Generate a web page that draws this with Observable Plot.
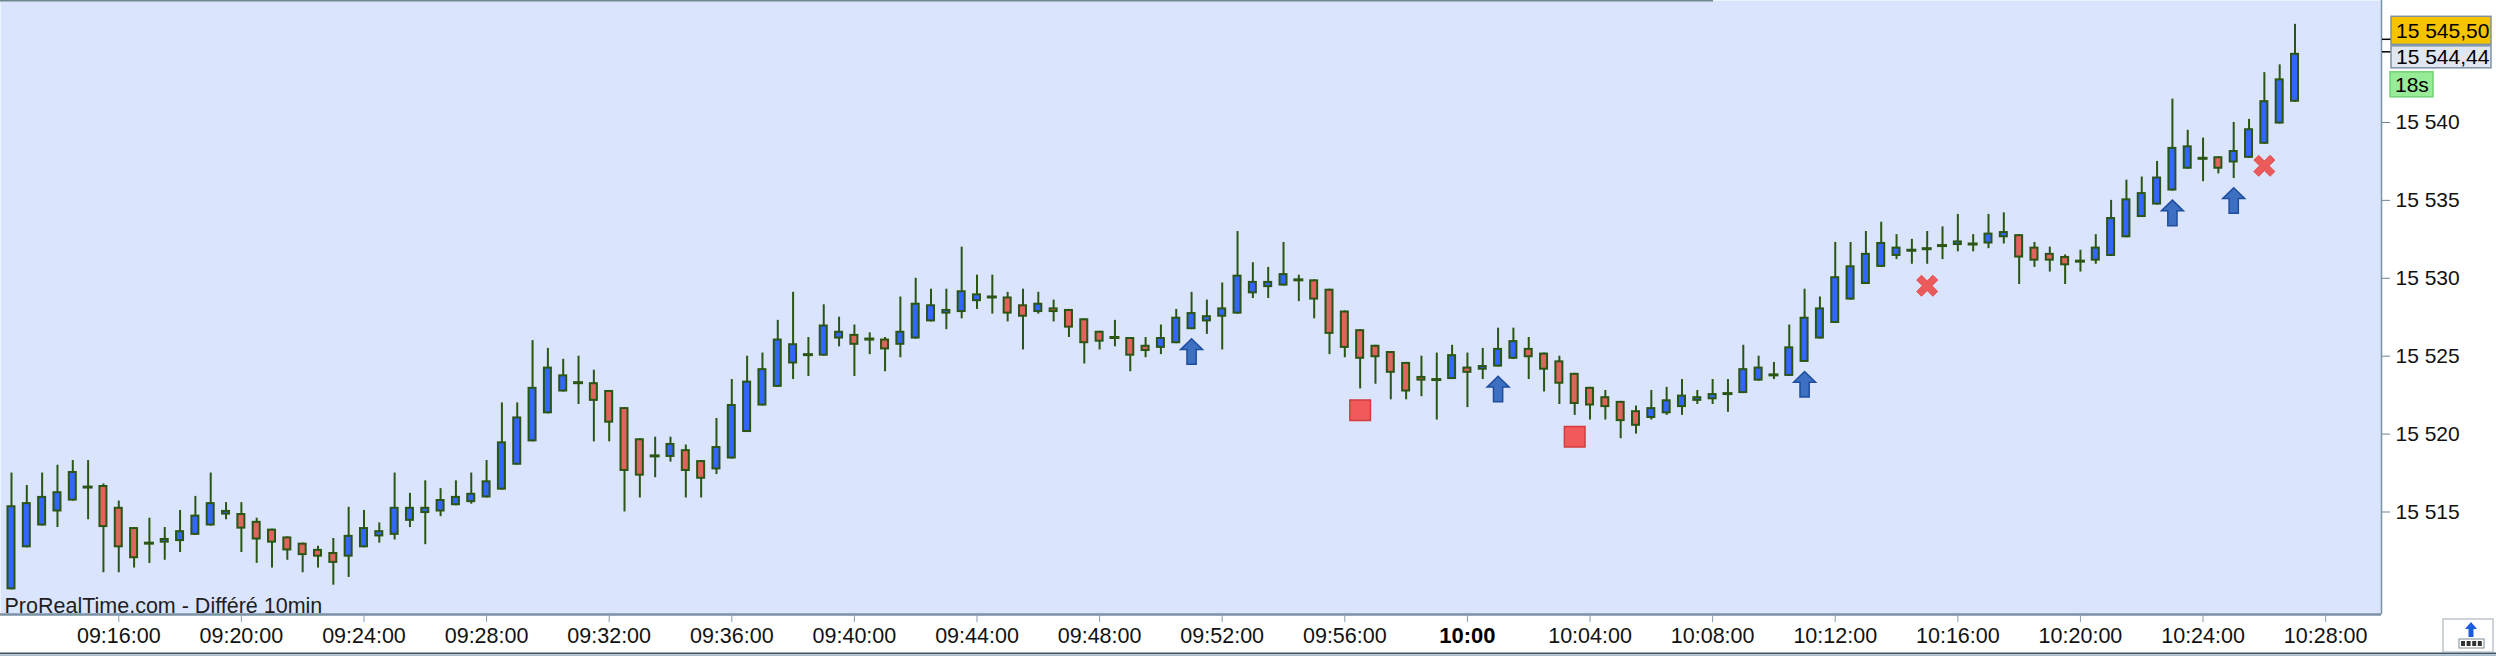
<!DOCTYPE html>
<html>
<head>
<meta charset="utf-8">
<script src="https://cdn.jsdelivr.net/npm/d3@7"></script>
<script src="https://cdn.jsdelivr.net/npm/@observablehq/plot@0.6"></script>
<style>
  html, body { margin: 0; padding: 0; background: #ffffff; }
  #chart { width: 2496px; height: 656px; overflow: hidden; }
</style>
</head>
<body>
<div id="chart"></div>
<script>
// ---------------- DATA ----------------
const day = "2023-10-02";
const barStart = "09:12:30";
const barSeconds = 30;

const open = [
15510.0,15512.7,15514.1,15515.0,15515.7,15516.6,15516.7,15515.3,15514.0,15513.0,
15513.0,15513.1,15513.5,15514.1,15514.8,15514.9,15514.4,15513.9,15513.4,15513.0,
15512.6,15512.4,15512.1,15512.7,15513.4,15513.5,15514.4,15514.9,15515.0,15515.4,
15515.6,15515.9,15516.4,15518.0,15519.5,15521.3,15522.7,15523.3,15523.3,15522.8,
15521.7,15519.7,15518.6,15518.5,15519.0,15518.3,15517.7,15518.4,15520.1,15521.8,
15523.0,15524.5,15525.1,15525.0,15526.1,15526.4,15526.1,15526.1,15525.7,15526.1,
15527.2,15527.7,15527.8,15528.5,15528.8,15528.8,15528.3,15527.8,15528.1,15528.0,
15527.4,15526.6,15526.2,15526.2,15525.7,15525.5,15525.8,15526.7,15527.2,15527.5,
15527.7,15529.0,15529.4,15529.5,15529.9,15529.9,15529.3,15527.9,15526.7,15525.7,
15525.3,15524.6,15523.7,15523.5,15523.5,15524.3,15524.1,15524.3,15524.8,15525.5,
15525.2,15524.7,15523.9,15523.0,15522.4,15522.1,15521.5,15521.0,15521.3,15521.7,
15522.1,15522.2,15522.6,15522.6,15523.4,15523.8,15523.7,15524.6,15526.1,15527.1,
15528.6,15529.6,15530.7,15531.4,15531.8,15531.9,15532.1,15532.1,15532.2,15532.2,
15532.6,15532.8,15532.0,15531.6,15531.4,15531.1,15531.1,15531.4,15532.6,15533.9,
15534.7,15535.6,15537.0,15537.7,15537.8,15537.4,15537.7,15538.6,15539.9,15541.3
];
const high = [
15517.5,15516.7,15517.5,15518.0,15518.3,15518.3,15516.8,15515.7,15514.0,15514.6,
15514.0,15515.1,15516.0,15517.5,15515.6,15515.6,15514.6,15513.9,15513.4,15513.0,
15512.8,15513.3,15515.3,15515.1,15514.3,15517.5,15516.2,15517.0,15516.5,15517.0,
15517.5,15518.3,15522.0,15522.0,15526.0,15525.5,15524.8,15525.0,15524.1,15522.8,
15521.7,15519.7,15519.8,15519.8,15519.3,15518.3,15521.0,15523.5,15525.0,15525.2,
15527.3,15529.1,15526.2,15528.3,15527.5,15527.0,15526.5,15526.2,15528.8,15530.0,
15529.3,15529.3,15532.0,15530.2,15530.2,15529.1,15529.3,15529.1,15528.6,15528.0,
15527.4,15526.6,15527.3,15526.2,15526.2,15527.0,15528.0,15529.1,15528.6,15529.7,
15533.0,15531.0,15530.7,15532.3,15530.2,15529.9,15529.3,15527.9,15526.7,15525.7,
15525.3,15524.6,15525.0,15525.2,15525.7,15525.2,15525.5,15526.8,15526.8,15526.2,
15525.2,15525.0,15523.9,15523.0,15522.8,15522.1,15521.8,15522.8,15523.0,15523.5,
15522.8,15523.5,15523.5,15525.7,15525.0,15524.6,15527.0,15529.3,15528.8,15532.3,
15532.3,15533.0,15533.6,15532.8,15532.5,15533.0,15533.3,15534.1,15532.8,15534.1,
15534.2,15532.8,15532.3,15532.0,15531.5,15531.8,15532.8,15535.0,15536.3,15536.5,
15537.5,15541.5,15539.5,15539.0,15537.8,15540.0,15540.2,15543.2,15543.7,15546.3
];
const low = [
15510.0,15512.7,15514.1,15514.0,15515.7,15514.5,15511.1,15511.1,15511.4,15511.7,
15511.9,15512.4,15513.5,15514.1,15514.5,15512.4,15511.7,15511.4,15511.9,15511.1,
15511.4,15510.3,15510.8,15512.7,15513.0,15513.2,15514.0,15512.9,15514.7,15515.4,
15515.5,15515.9,15516.4,15518.0,15519.5,15521.3,15522.7,15521.9,15519.5,15519.5,
15515.0,15515.9,15517.2,15518.2,15515.9,15515.9,15517.4,15518.4,15520.1,15521.8,
15523.0,15523.5,15523.7,15525.0,15525.6,15523.7,15525.1,15524.0,15524.9,15526.1,
15527.2,15526.7,15527.4,15528.0,15527.7,15527.2,15525.4,15527.7,15527.2,15526.2,
15524.5,15525.4,15525.6,15524.0,15524.9,15525.1,15525.8,15526.7,15526.4,15525.4,
15527.7,15528.7,15528.7,15529.5,15528.5,15527.4,15525.1,15524.9,15522.9,15523.2,
15522.2,15522.2,15522.4,15520.9,15523.5,15521.7,15523.5,15524.3,15524.8,15523.5,
15522.7,15521.9,15521.2,15520.9,15520.9,15519.7,15520.0,15520.9,15521.2,15521.2,
15521.9,15521.9,15521.4,15522.6,15523.4,15523.5,15523.7,15524.6,15526.1,15527.1,
15528.6,15529.6,15530.7,15531.2,15530.9,15530.9,15531.2,15531.7,15531.7,15531.9,
15532.2,15529.6,15530.7,15530.4,15529.6,15530.4,15530.9,15531.4,15532.6,15533.9,
15534.7,15535.6,15537.0,15536.2,15536.7,15536.4,15537.7,15538.6,15539.9,15541.3
];
const close = [
15515.4,15515.6,15516.0,15516.3,15517.6,15516.6,15514.0,15512.7,15512.0,15513.0,
15513.3,15513.8,15514.8,15515.6,15515.1,15513.9,15513.2,15513.0,15512.5,15512.2,
15512.1,15511.7,15513.5,15514.0,15513.8,15515.3,15515.3,15515.3,15515.8,15516.0,
15516.2,15517.0,15519.5,15521.1,15523.0,15524.3,15523.8,15523.3,15522.1,15520.7,
15517.6,15517.3,15518.6,15519.4,15517.6,15517.1,15519.2,15521.9,15523.4,15524.2,
15526.1,15525.8,15525.1,15527.0,15526.6,15525.7,15526.1,15525.4,15526.6,15528.4,
15528.3,15528.0,15529.2,15529.0,15528.8,15527.7,15527.5,15528.4,15527.8,15526.8,
15525.8,15525.9,15526.2,15525.0,15525.3,15526.2,15527.5,15527.8,15527.6,15528.1,
15530.2,15529.8,15529.8,15530.3,15529.9,15528.6,15526.4,15525.5,15524.8,15524.9,
15523.9,15522.7,15523.4,15523.5,15525.1,15523.9,15524.4,15525.5,15526.0,15524.9,
15524.1,15523.2,15521.9,15521.8,15521.7,15520.8,15520.5,15521.7,15522.2,15522.5,
15522.4,15522.6,15522.6,15524.2,15524.3,15523.8,15525.6,15527.5,15528.1,15530.1,
15530.8,15531.6,15532.3,15532.0,15531.8,15531.9,15532.1,15532.4,15532.2,15532.9,
15533.0,15531.3,15531.1,15531.1,15530.8,15531.1,15532.0,15533.9,15535.1,15535.5,
15536.5,15538.4,15538.5,15537.7,15537.0,15538.2,15539.6,15541.4,15542.8,15544.44
];

// signal bars (indices into the bar arrays)
const buyBars = [77, 97, 117, 141, 145];
const stopBars = [88, 102];
const exitBars = [125, 147];

const yTicks = [15515, 15520, 15525, 15530, 15535, 15540];
const xTicks = ["09:16:00","09:20:00","09:24:00","09:28:00","09:32:00","09:36:00","09:40:00",
  "09:44:00","09:48:00","09:52:00","09:56:00","10:00","10:04:00","10:08:00","10:12:00",
  "10:16:00","10:20:00","10:24:00","10:28:00"];
const xDomain = ["09:12:08.5", "10:29:49.3"];
const yDomain = [15508.42, 15547.83];

const refPrice = 15545.50;
const lastPrice = 15544.44;
const timerLabel = "18s";
const watermark = "ProRealTime.com - Différé 10min";

// ---------------- STYLE ----------------
const BG = "#dae5fd", BLUE = "#3366ff", RED = "#e0645e", GREEN = "#2b5513", FRAME = "#7a92a5";
const FONT = "'Liberation Sans', Arial, Helvetica, sans-serif";

const parseT = s => new Date(`${day}T${s.length === 5 ? s + ":00" : s}Z`);
const t0 = parseT(barStart);
const bars = open.map((o, i) => ({
  i, time: new Date(+t0 + i * barSeconds * 1000),
  open: o, high: high[i], low: low[i], close: close[i]
}));
const up = bars.filter(d => d.close > d.open);
const down = bars.filter(d => d.close < d.open);
const doji = bars.filter(d => d.close === d.open);
const BODY_HALF = 6850, DOJI_HALF = 9800;
const left = ms => d => new Date(+d.time - ms);
const right = ms => d => new Date(+d.time + ms);

const arrowSymbol = {draw(c) {
  c.moveTo(0, -12.7); c.lineTo(11, -2); c.lineTo(4.6, -2); c.lineTo(4.6, 12.8);
  c.lineTo(-4.6, 12.8); c.lineTo(-4.6, -2); c.lineTo(-11, -2); c.closePath();
}};
const squareSymbol = {draw(c) { c.rect(-10.3, -10.3, 20.6, 20.6); }};
const crossSymbol = {draw(c) {
  const e = 10.5, t = 4.8;
  c.moveTo(-e, -e + t); c.lineTo(-e + t, -e); c.lineTo(0, -t); c.lineTo(e - t, -e);
  c.lineTo(e, -e + t); c.lineTo(t, 0); c.lineTo(e, e - t); c.lineTo(e - t, e);
  c.lineTo(0, t); c.lineTo(-e + t, e); c.lineTo(-e, e - t); c.lineTo(-t, 0); c.closePath();
}};

const tickDates = xTicks.map(parseT);
const labelOf = new Map(xTicks.map(s => [+parseT(s), s]));
const normalTicks = tickDates.filter(d => labelOf.get(+d).length > 5);
const boldTicks = tickDates.filter(d => labelOf.get(+d).length === 5);

const frNum = (v, dec) => {
  const [a, b] = v.toFixed(dec).split(".");
  return a.replace(/\B(?=(\d{3})+$)/g, " ") + (b ? "," + b : "");
};

const plot = Plot.plot({
  width: 2496, height: 656,
  marginLeft: 0, marginRight: 115, marginTop: 0, marginBottom: 42,
  style: {background: "#ffffff", fontFamily: FONT, fontSize: "21px", color: "#000", overflow: "visible"},
  x: {type: "utc", domain: xDomain.map(parseT)},
  y: {domain: yDomain},
  marks: [
    Plot.frame({fill: BG, stroke: "none"}),
    Plot.ruleX(bars, {x: "time", y1: "low", y2: "high", stroke: GREEN, strokeWidth: 2}),
    Plot.rect(up, {x1: left(BODY_HALF), x2: right(BODY_HALF), y1: "open", y2: "close",
      fill: BLUE, stroke: GREEN, strokeWidth: 2, insetTop: 1, insetBottom: 1}),
    Plot.rect(down, {x1: left(BODY_HALF), x2: right(BODY_HALF), y1: "open", y2: "close",
      fill: RED, stroke: GREEN, strokeWidth: 2, insetTop: 1, insetBottom: 1}),
    Plot.ruleY(doji, {y: "close", x1: left(DOJI_HALF), x2: right(DOJI_HALF), stroke: GREEN, strokeWidth: 3}),
    Plot.dot(buyBars.map(i => bars[i]), {x: "time", y: "low", dy: 21.8, r: 1, symbol: arrowSymbol,
      fill: "#3d70c0", stroke: "#1f4d9e", strokeWidth: 1.5}),
    Plot.dot(stopBars.map(i => bars[i]), {x: "time", y: "low", dy: 21.3, r: 1, symbol: squareSymbol,
      fill: "#f05a5a", stroke: "#d23c3c", strokeWidth: 1.5}),
    Plot.dot(exitBars.map(i => bars[i]), {x: "time", y: "low", dy: 21.5, r: 1, symbol: crossSymbol,
      fill: "#ec5b5b", stroke: "#e24e4e", strokeWidth: 1}),
    Plot.ruleY([yDomain[0]], {stroke: FRAME, strokeWidth: 2.5}),
    Plot.ruleX([parseT(xDomain[1])], {stroke: FRAME, strokeWidth: 1.5}),
    Plot.axisY(yTicks, {anchor: "right", tickSize: 8, tickPadding: 6, stroke: "#6d8394",
      tickFormat: v => frNum(v, 0), fontSize: 21, fill: "#111"}),
    Plot.axisX(normalTicks, {anchor: "bottom", tickSize: 8, tickPadding: 5, stroke: "#8a9db0",
      tickFormat: d => labelOf.get(+d), fontSize: 21.5, fill: "#111"}),
    Plot.axisX(boldTicks, {anchor: "bottom", tickSize: 8, tickPadding: 5, stroke: "#8a9db0",
      tickFormat: d => labelOf.get(+d), fontSize: 22, fontWeight: "bold", fill: "#000"}),
    Plot.text([watermark], {text: d => d, frameAnchor: "bottom-left", dx: 4, dy: -2,
      textAnchor: "start", lineAnchor: "bottom", fontSize: 21.5, fill: "#1e1e1e"})
  ]
});

// ---------------- ANNOTATIONS (price flags on the right axis) ----------------
const svg = d3.select(plot);
const ys = plot.scale("y");
const xr = 2381;
const g = svg.append("g").attr("text-anchor", "start").attr("font-family", FONT);
// top scroll indicator line
g.append("rect").attr("x", 0).attr("y", 0).attr("width", 1713).attr("height", 1.5).attr("fill", "#6c8a8c");
// ref price flag
const yRef = ys.apply(refPrice), yLast = ys.apply(lastPrice);
g.append("line").attr("x1", xr + 1).attr("x2", xr + 10).attr("y1", yRef + 3).attr("y2", yRef + 3).attr("stroke", "#000").attr("stroke-width", 1.5);
g.append("rect").attr("x", xr + 10).attr("y", yRef - 20).attr("width", 100).attr("height", 28)
  .attr("fill", "#f6c300").attr("stroke", "#7e93a5").attr("stroke-width", 1.5);
g.append("text").attr("x", xr + 15).attr("y", yRef - 6).attr("dy", "0.35em").attr("font-size", 21).attr("text-anchor", "start").text(frNum(refPrice, 2));
g.append("line").attr("x1", xr + 1).attr("x2", xr + 10).attr("y1", yLast - 1).attr("y2", yLast - 1).attr("stroke", "#000").attr("stroke-width", 1.5);
g.append("rect").attr("x", xr + 10).attr("y", yLast - 7).attr("width", 100).attr("height", 22)
  .attr("fill", "#e1e7f1").attr("stroke", "#7e93a5").attr("stroke-width", 1.5);
g.append("text").attr("x", xr + 15).attr("y", yLast + 4).attr("dy", "0.35em").attr("font-size", 21).attr("text-anchor", "start").text(frNum(lastPrice, 2));
g.append("rect").attr("x", xr + 9).attr("y", yLast + 19).attr("width", 43).attr("height", 25)
  .attr("fill", "#98ec98").attr("stroke", "#72d372").attr("stroke-width", 1.5);
g.append("text").attr("x", xr + 14).attr("y", yLast + 31.5).attr("dy", "0.35em").attr("font-size", 21).attr("text-anchor", "start").text(timerLabel);
// bottom border
g.append("rect").attr("x", 0).attr("y", 652.5).attr("width", 2496).attr("height", 1.5).attr("fill", "#3f5564");
g.append("rect").attr("x", 0).attr("y", 654.2).attr("width", 2496).attr("height", 1.8).attr("fill", "#a9bdcc");
// corner icon
g.append("rect").attr("x", 2443).attr("y", 619).attr("width", 50).attr("height", 33).attr("fill", "#fff").attr("stroke", "#9aa8b5");
g.append("path").attr("d", "M2471,622 L2477,629 L2473.5,629 L2473.5,637 L2468.5,637 L2468.5,629 L2465,629 Z").attr("fill", "#1a5ce0");
g.append("rect").attr("x", 2459).attr("y", 639).attr("width", 25).attr("height", 9).attr("fill", "#fff").attr("stroke", "#7d8c98");
for (let k = 0; k < 4; k++) g.append("rect").attr("x", 2461 + k * 5.6).attr("y", 641).attr("width", 4).attr("height", 5).attr("fill", "#333");

document.getElementById("chart").appendChild(plot);
</script>
</body>
</html>
